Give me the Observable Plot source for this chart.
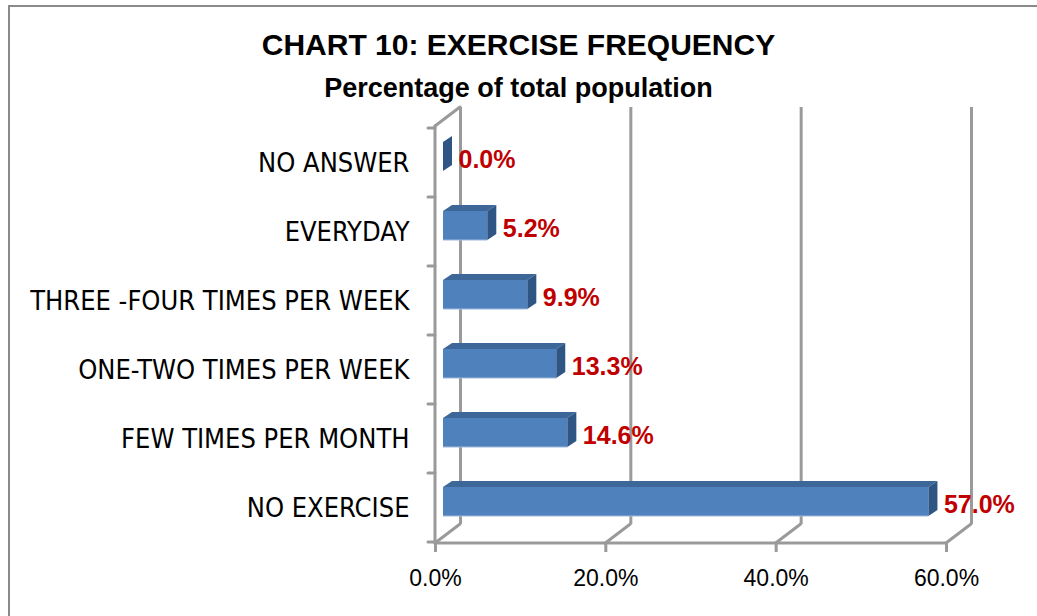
<!DOCTYPE html>
<html>
<head>
<meta charset="utf-8">
<script src="https://cdn.jsdelivr.net/npm/d3@7"></script>
<script src="https://cdn.jsdelivr.net/npm/@observablehq/plot@0.6"></script>
<style>
html, body { margin: 0; padding: 0; background: #fff; }
#wrap { position: relative; width: 1037px; height: 616px; overflow: hidden; background: #fff; }
#border { position: absolute; left: 8px; top: 5px; width: 1200px; height: 800px;
  border-left: 2px solid #8a8a8a; border-top: 2px solid #8a8a8a; pointer-events: none; z-index: 2; }
#head { position: relative; height: 110px; }
#title { position: absolute; left: 0; width: 1037px; top: 28px; line-height: 36px; text-align: center;
  font: bold 30px "Liberation Sans", Arial, sans-serif; color: #000; }
#subtitle { position: absolute; left: 0; width: 1037px; top: 73px; line-height: 32px; text-align: center;
  font: bold 27px "Liberation Sans", Arial, sans-serif; color: #000; }
#chart svg { display: block; }
</style>
</head>
<body>
<div id="wrap">
  <div id="border"></div>
  <div id="head">
    <div id="title">CHART 10: EXERCISE FREQUENCY</div>
    <div id="subtitle">Percentage of total population</div>
  </div>
  <div id="chart"></div>
</div>
<script>
const categories = ["NO ANSWER", "EVERYDAY", "THREE -FOUR TIMES PER WEEK", "ONE-TWO TIMES PER WEEK", "FEW TIMES PER MONTH", "NO EXERCISE"];
const values = [0.0, 5.2, 9.9, 13.3, 14.6, 57.0];
const xTicks = [0, 20, 40, 60];

const data = categories.map((c, i) => ({category: c, value: values[i]}));

const GRID = "#9a9a9a";
const DX = 25, DY = 19;          // back-wall depth offset (px)
const BAR_SHIFT = 8;             // bar front face offset from front wall
const FX = 9, FY = 6;            // bar depth (px)
const INSET_TOP = 14, INSET_BOTTOM = 26;
const FRONT = "#4F81BD", TOPC = "#3D6799", SIDE = "#2F5584";

function frame3d(index, scales, values, dims) {
  const x = scales.x, y = scales.y;
  const top = dims.marginTop, bottom = dims.height - dims.marginBottom;
  const x0 = x(0);
  const g = d3.create("svg:g").attr("fill", "none").attr("stroke", GRID)
    .attr("stroke-width", 3).attr("stroke-linecap", "round");
  for (const t of xTicks) {
    g.append("line").attr("x1", x(t)).attr("y1", bottom).attr("x2", x(t) + DX).attr("y2", bottom - DY);
  }
  g.append("line").attr("x1", x0).attr("y1", top).attr("x2", x0 + DX).attr("y2", top - DY);
  g.append("line").attr("x1", x0).attr("y1", top).attr("x2", x0).attr("y2", bottom);
  g.append("line").attr("x1", x0).attr("y1", bottom).attr("x2", x(d3.max(xTicks))).attr("y2", bottom);
  const bw = y.bandwidth ? y.bandwidth() : (bottom - top) / categories.length;
  const bounds = categories.map(c => y(c)).concat([y(categories[categories.length - 1]) + bw]);
  for (const b of bounds) {
    g.append("line").attr("x1", x0 - 7).attr("y1", b).attr("x2", x0).attr("y2", b);
  }
  return g.node();
}

function barFaces(index, scales, values, dims) {
  const x = scales.x, y = scales.y;
  const top = dims.marginTop, bottom = dims.height - dims.marginBottom;
  const bw = y.bandwidth ? y.bandwidth() : (bottom - top) / categories.length;
  const g = d3.create("svg:g");
  for (const d of data) {
    const xl = x(0) + BAR_SHIFT, xr = x(d.value) + BAR_SHIFT;
    const yf = y(d.category) + INSET_TOP, yb = y(d.category) + bw - INSET_BOTTOM;
    if (xr > xl) {
      g.append("path").attr("fill", TOPC)
        .attr("d", `M${xl},${yf}L${xr},${yf}L${xr + FX},${yf - FY}L${xl + FX},${yf - FY}Z`);
      g.append("line").attr("x1", xl).attr("y1", yb).attr("x2", xr).attr("y2", yb)
        .attr("stroke", "#9fb9dc").attr("stroke-width", 1.2);
    }
    g.append("path").attr("fill", SIDE)
      .attr("d", `M${xr},${yf}L${xr + FX},${yf - FY}L${xr + FX},${yb - FY}L${xr},${yb}Z`);
  }
  return g.node();
}

const chart = Plot.plot({
  width: 1037,
  height: 506,
  marginLeft: 435,
  marginRight: 91,
  marginTop: 16,
  marginBottom: 73,
  x: {domain: [0, 60], axis: null},
  y: {domain: categories, padding: 0, axis: null},
  style: {background: "transparent", overflow: "visible", fontFamily: "'Liberation Sans', Arial, sans-serif", color: "#000"},
  marks: [
    Plot.ruleX(xTicks, {dx: DX, dy: -DY, stroke: GRID, strokeWidth: 3}),
    frame3d,
    Plot.axisX({ticks: xTicks, tickFormat: d => d.toFixed(1) + "%", tickSize: 9, tickPadding: 17,
      fontSize: 23, stroke: GRID, strokeWidth: 3, fill: "#000", label: null}),
    Plot.axisY({tickSize: 0, tickPadding: 26, fontSize: 27,
      fontFamily: "'DejaVu Sans Condensed', 'DejaVu Sans', sans-serif", fontStretch: "condensed", fill: "#000", label: null}),
    Plot.barX(data, {x: "value", y: "category", dx: BAR_SHIFT, insetTop: INSET_TOP, insetBottom: INSET_BOTTOM, fill: FRONT}),
    barFaces,
    Plot.text(data, {x: "value", y: "category", text: d => d.value.toFixed(1) + "%", dx: 23, dy: -3,
      textAnchor: "start", fill: "#C00000", fontWeight: "bold", fontSize: 25,
      fontFamily: "'Liberation Sans', Arial, sans-serif"})
  ]
});
document.getElementById("chart").appendChild(chart);
</script>
</body>
</html>
